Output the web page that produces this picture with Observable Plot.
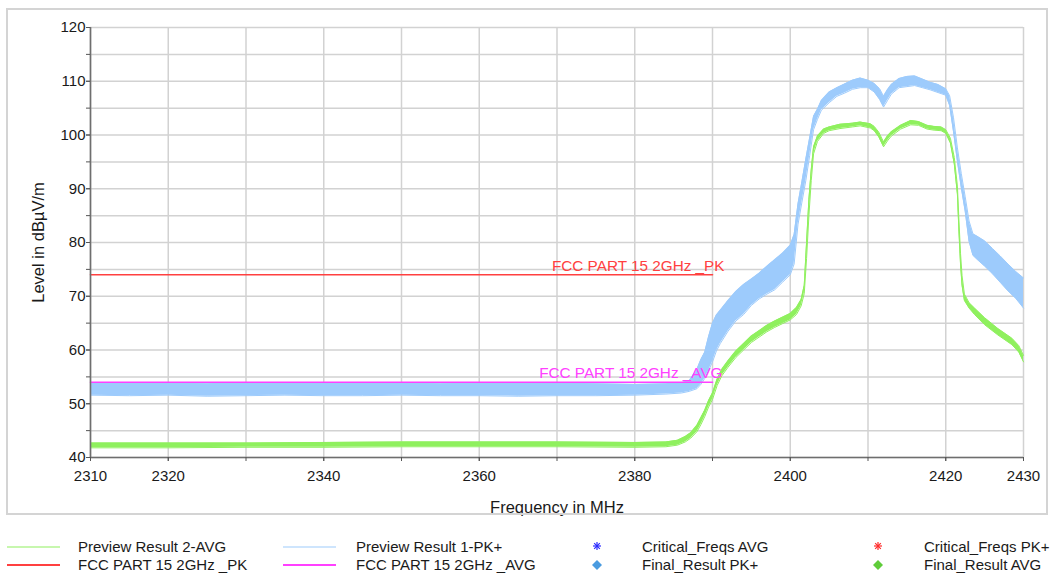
<!DOCTYPE html>
<html><head><meta charset="utf-8">
<script src="https://cdn.jsdelivr.net/npm/d3@7"></script>
<script src="https://cdn.jsdelivr.net/npm/@observablehq/plot@0.6"></script>
<style>
body{margin:0;background:#fff;font-family:"Liberation Sans",Arial,sans-serif;}
#wrap{position:relative;width:1051px;height:576px;overflow:hidden;background:#fff}
#box{position:absolute;left:6px;top:8px;width:1038px;height:503px;border:2px solid #d4d4d4;pointer-events:none}
#chart{position:absolute;left:0;top:0}
#legend{position:absolute;left:0;top:520px}
</style>
</head><body>
<div id="wrap"><div id="chart"></div><div id="box"></div><div id="legend"></div></div>
<script>
// ---- Data ----
// Preview Result 1-PK+ (noise envelope: low / high, dBµV/m)
const pkFreq = [2310,2315,2320,2325,2330,2335,2340,2345,2350,2355,2360,2365,2370,2375,2380,2384,2386,2387,2388,2388.5,2389,2389.5,2390,2390.5,2391,2392,2393,2394,2395,2396,2397,2398,2399,2400,2400.5,2401,2401.5,2402,2402.5,2403,2403.5,2404,2405,2406,2407,2408,2409,2410,2410.8,2411.5,2412,2412.5,2413,2414,2415,2416,2417,2418,2419,2420,2420.5,2421,2421.5,2422,2422.5,2423,2423.5,2424,2425,2426,2427,2428,2429,2430];
const pkLow  = [51.6,51.5,51.6,51.4,51.5,51.6,51.5,51.5,51.6,51.5,51.5,51.4,51.5,51.5,51.6,51.8,52.0,52.3,52.8,53.6,54.7,56.2,57.8,59.8,61.2,63.5,65.4,66.6,68.3,69.5,70.4,71.2,72.6,74.0,76.0,83.4,87.5,91.5,96.2,101.0,102.9,104.6,106.0,107.2,107.8,108.5,108.8,108.8,108.0,106.6,105.2,106.4,107.6,108.8,109.0,109.2,108.8,108.4,107.9,107.4,105.5,100.6,95.1,90.2,85.8,80.2,77.6,76.9,75.6,74.2,72.6,71.0,69.6,67.8];
const pkHigh = [53.8,53.9,53.8,53.7,53.9,53.8,53.8,53.9,53.8,53.7,53.8,53.8,53.8,53.7,53.6,53.7,53.9,54.3,56.4,58.2,59.6,62.5,65.0,66.5,67.4,69.2,70.9,72.2,73.2,74.3,75.6,76.8,78.0,79.5,81.5,87.2,91.3,95.5,99.5,103.5,104.8,106.4,108.0,108.8,109.5,110.2,110.6,110.2,109.6,108.6,107.2,108.4,109.4,110.5,110.9,111.0,110.4,109.8,109.4,108.6,107.3,103.2,97.6,92.8,88.5,84.0,81.6,81.2,80.3,78.9,77.5,76.0,74.6,73.4];

// Preview Result 2-AVG (noise envelope: low / high, dBµV/m)
const avgFreq = [2310,2320,2330,2340,2350,2360,2370,2380,2384,2385.5,2386.5,2387.2,2388,2388.5,2389,2389.5,2390,2390.6,2391.2,2392,2393,2394,2395,2396,2397,2398,2399,2400,2400.8,2401.4,2401.8,2402.1,2402.4,2402.7,2403,2403.5,2404.3,2405,2406.4,2408,2409,2410.3,2410.8,2411.4,2412,2412.5,2413,2414.2,2415.5,2416.5,2417.6,2418.5,2419.4,2420,2420.6,2421.1,2421.5,2421.7,2421.9,2422.1,2422.4,2423,2423.7,2425,2426.7,2428.5,2429.4,2430];
const avgLow  = [41.8,41.8,41.9,41.9,42.0,42.0,42.0,41.9,42.0,42.3,42.9,43.6,44.8,46.1,47.6,49.4,50.8,53.4,55.2,56.8,58.6,60.0,61.4,62.4,63.4,64.2,64.9,65.6,66.6,68.2,70.5,77.0,85.0,91.5,96.5,98.8,100.3,100.8,101.2,101.5,101.7,101.3,100.8,99.6,97.8,98.9,99.8,101.1,101.9,101.8,101.1,100.9,100.8,100.3,98.5,94.6,89.0,82.0,76.0,72.0,69.2,67.8,66.6,64.7,62.8,61.0,59.6,57.8];
const avgHigh = [42.7,42.7,42.7,42.8,42.9,42.9,42.9,42.8,42.9,43.2,43.9,44.6,46.0,47.4,48.8,50.6,52.0,54.6,56.4,58.0,59.8,61.2,62.6,63.6,64.6,65.4,66.1,66.8,67.9,69.4,72.0,80.0,88.0,93.5,97.8,99.8,101.1,101.5,102.0,102.2,102.4,102.1,101.6,100.5,98.7,99.8,100.6,101.8,102.7,102.5,101.8,101.6,101.5,101.0,99.4,95.8,90.5,84.0,78.0,73.8,70.4,68.8,67.8,66.0,64.0,62.2,60.8,59.0];

// Limit lines
const limitFreq = [2310, 2390];
const limitPK = [74, 74];
const limitAVG = [54, 54];
const limitLabels = ["FCC PART 15 2GHz _PK", "FCC PART 15 2GHz _AVG"];

// Axes
const xTickLabels = [2310, 2320, 2340, 2360, 2380, 2400, 2420, 2430];
const xGrid = [2310,2320,2330,2340,2350,2360,2370,2380,2390,2400,2410,2420,2430];
const yTickLabels = [40,50,60,70,80,90,100,110,120];
const yGrid = [40,45,50,55,60,65,70,75,80,85,90,95,100,105,110,115,120];
const xTitle = "Frequency in MHz";
const yTitle = "Level in dBµV/m";

// Legend
const legendNames = ["Preview Result 2-AVG","Preview Result 1-PK+","Critical_Freqs AVG","Critical_Freqs PK+","FCC PART 15 2GHz _PK","FCC PART 15 2GHz _AVG","Final_Result PK+","Final_Result AVG"];

// ---- Colours ----
const cBlue = "#9dcbfc", cGreen = "#8ff05e", cRed = "#ff4040", cMag = "#ff40ff";

const pk = pkFreq.map((f,i)=>({f, lo:pkLow[i], hi:pkHigh[i]}));
const avg = avgFreq.map((f,i)=>({f, lo:avgLow[i], hi:avgHigh[i]}));
const limPK = limitFreq.map((f,i)=>({f, v:limitPK[i]}));
const limAVG = limitFreq.map((f,i)=>({f, v:limitAVG[i]}));

const font = '"Liberation Sans", Arial, sans-serif';
const fmt = d => String(d);

const chart = Plot.plot({
  width: 1051, height: 520,
  marginLeft: 90, marginRight: 28, marginTop: 27, marginBottom: 63,
  x: {domain: [2310, 2430]},
  y: {domain: [40, 120]},
  style: {fontFamily: font, fontSize: "15px", color: "#1a1a1a", background: "transparent", overflow: "visible"},
  marks: [
    Plot.gridX(xGrid, {stroke: "#d2d2d2", strokeOpacity: 1, strokeWidth: 1.5}),
    Plot.gridY(yGrid, {stroke: "#d2d2d2", strokeOpacity: 1, strokeWidth: 1.5}),
    Plot.areaY(pk, {x: "f", y1: "lo", y2: "hi", fill: cBlue}),
    Plot.line(pk, {x: "f", y: "lo", stroke: cBlue, strokeWidth: 1}),
    Plot.line(pk, {x: "f", y: "hi", stroke: cBlue, strokeWidth: 1}),
    Plot.areaY(avg, {x: "f", y1: "lo", y2: "hi", fill: cGreen}),
    Plot.line(avg, {x: "f", y: "lo", stroke: cGreen, strokeWidth: 1}),
    Plot.line(avg, {x: "f", y: "hi", stroke: cGreen, strokeWidth: 1}),
    Plot.line(limPK, {x: "f", y: "v", stroke: cRed, strokeWidth: 1.6}),
    Plot.line(limAVG, {x: "f", y: "v", stroke: cMag, strokeWidth: 1.6}),
    Plot.text([limPK[1]], {x: "f", y: "v", text: () => limitLabels[0], fill: cRed, textAnchor: "end", dx: 12, dy: -9, fontSize: 15.3}),
    Plot.text([limAVG[1]], {x: "f", y: "v", text: () => limitLabels[1], fill: cMag, textAnchor: "end", dx: 10, dy: -9, fontSize: 15.3}),
    Plot.ruleX([2310], {stroke: "#6e6e6e", strokeWidth: 1.6}),
    Plot.ruleY([40], {stroke: "#6e6e6e", strokeWidth: 1.6}),
    Plot.axisY(yGrid, {tickSize: 4, text: null, stroke: "#555", label: null}),
    Plot.axisY(yTickLabels, {tickSize: 4, tickPadding: 1, tickFormat: fmt, fontSize: 15, label: null, stroke: "#555"}),
    Plot.axisX(xGrid, {tickSize: 4, text: null, stroke: "#555", label: null}),
    Plot.axisX(xTickLabels, {tickSize: 4, tickPadding: 9, tickFormat: fmt, fontSize: 15, label: null, stroke: "#555"}),
    Plot.text([xTitle], {frameAnchor: "bottom", lineAnchor: "middle", textAnchor: "middle", dy: 50, fontSize: 16.5, fill: "#1a1a1a"}),
    Plot.text([yTitle], {frameAnchor: "left", rotate: -90, textAnchor: "middle", lineAnchor: "middle", dx: -52, fontSize: 16.5, fill: "#1a1a1a"})
  ]
});
document.getElementById("chart").appendChild(chart);

// ---- Legend ----
const colX = [7, 283, 597, 878];
const txtX = [78, 356, 642, 924];
const rowY = [27, 45];
const items = [
  {name: legendNames[0], kind: "line", color: cGreen, w: 1.2, col: 0, row: 0},
  {name: legendNames[1], kind: "line", color: cBlue, w: 1.2, col: 1, row: 0},
  {name: legendNames[2], kind: "star", color: "#2a2aff", col: 2, row: 0},
  {name: legendNames[3], kind: "star", color: "#ff2a2a", col: 3, row: 0},
  {name: legendNames[4], kind: "line", color: cRed, w: 2, col: 0, row: 1},
  {name: legendNames[5], kind: "line", color: cMag, w: 2, col: 1, row: 1},
  {name: legendNames[6], kind: "diamond", color: "#4a9be0", col: 2, row: 1},
  {name: legendNames[7], kind: "diamond", color: "#5fcc3a", col: 3, row: 1}
];
const svg = d3.create("svg").attr("width", 1051).attr("height", 56).style("font-family", font);
for (const it of items) {
  const y = rowY[it.row];
  if (it.kind === "line") {
    svg.append("line").attr("x1", colX[it.col]).attr("x2", colX[it.col] + 53).attr("y1", y).attr("y2", y)
      .attr("stroke", it.color).attr("stroke-width", it.w);
  } else if (it.kind === "star") {
    const g = svg.append("g").attr("transform", `translate(${colX[it.col]},${y - 1})`).attr("stroke", it.color).attr("stroke-width", 1.2);
    for (const a of [0, 45, 90, 135]) {
      const r = 4, rad = a * Math.PI / 180;
      g.append("line").attr("x1", -r * Math.cos(rad)).attr("y1", -r * Math.sin(rad)).attr("x2", r * Math.cos(rad)).attr("y2", r * Math.sin(rad));
    }
  } else {
    svg.append("path").attr("d", "M0,-5L5,0L0,5L-5,0Z").attr("fill", it.color).attr("transform", `translate(${colX[it.col]},${y})`);
  }
  svg.append("text").attr("x", txtX[it.col]).attr("y", y).attr("dy", "0.35em").attr("font-size", 15).attr("fill", "#1a1a1a").text(it.name);
}
document.getElementById("legend").appendChild(svg.node());
</script>
</body></html>
